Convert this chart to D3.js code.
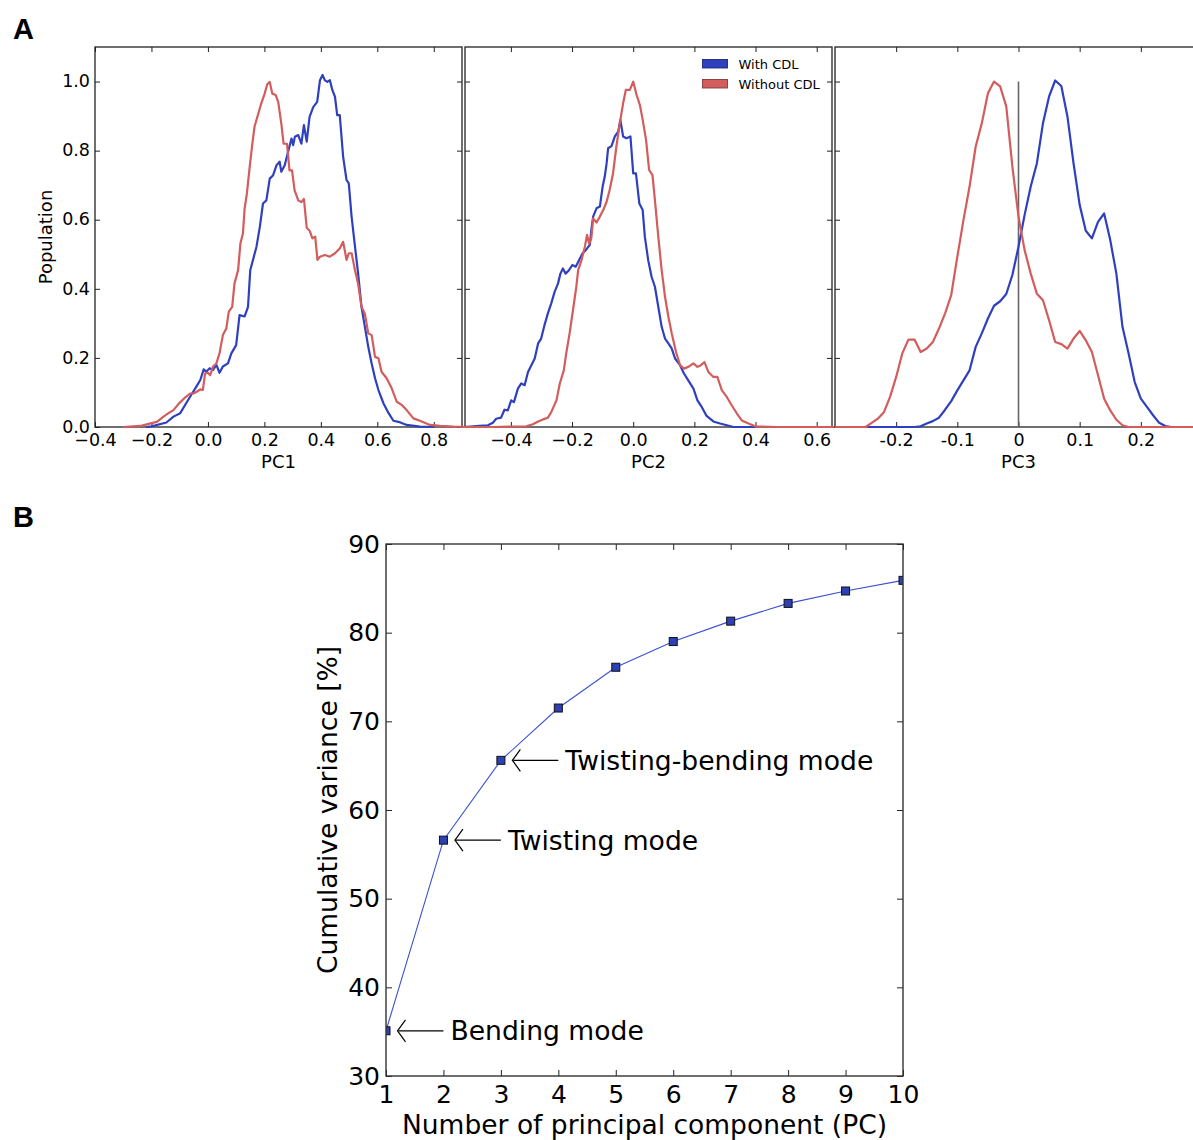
<!DOCTYPE html>
<html><head><meta charset="utf-8">
<script src="https://cdn.jsdelivr.net/npm/d3@7"></script>
<style>body{margin:0;background:#fff}svg{display:block}</style>
</head><body>
<svg id="chart" width="1193" height="1140"></svg>
<script>
// ---------- DATA ----------
const seriesNames = ["With CDL", "Without CDL"];
const pcNames = ["PC1", "PC2", "PC3"];

const pc1WithCDL = [[-0.22,0],[-0.2,0.002],[-0.147,0.013],[-0.122,0.03],[-0.098,0.04],[-0.074,0.073],[-0.056,0.097],[-0.041,0.117],[-0.027,0.136],[-0.015,0.167],[-0.006,0.16],[0.006,0.17],[0.018,0.165],[0.03,0.18],[0.041,0.157],[0.053,0.175],[0.071,0.184],[0.083,0.213],[0.1,0.237],[0.112,0.324],[0.13,0.32],[0.142,0.348],[0.15,0.454],[0.172,0.522],[0.184,0.58],[0.195,0.647],[0.207,0.656],[0.219,0.719],[0.231,0.729],[0.243,0.758],[0.254,0.768],[0.26,0.739],[0.272,0.758],[0.284,0.797],[0.296,0.835],[0.302,0.816],[0.308,0.84],[0.32,0.845],[0.331,0.82],[0.34,0.874],[0.35,0.826],[0.36,0.898],[0.373,0.926],[0.387,0.941],[0.397,1.004],[0.406,1.019],[0.414,1.004],[0.423,0.999],[0.432,1.004],[0.441,0.975],[0.45,0.956],[0.458,0.903],[0.467,0.903],[0.479,0.782],[0.491,0.715],[0.499,0.705],[0.509,0.608],[0.521,0.522],[0.532,0.445],[0.544,0.348],[0.556,0.29],[0.568,0.232],[0.58,0.184],[0.592,0.141],[0.604,0.107],[0.622,0.068],[0.64,0.04],[0.657,0.018],[0.675,0.015],[0.704,0.006],[0.751,0.001],[0.8,0]];
const pc1WithoutCDL = [[-0.3,0],[-0.24,0.003],[-0.21,0.009],[-0.181,0.015],[-0.157,0.03],[-0.14,0.04],[-0.122,0.049],[-0.104,0.067],[-0.08,0.086],[-0.063,0.097],[-0.051,0.097],[-0.04,0.102],[-0.027,0.109],[-0.018,0.107],[-0.01,0.155],[0.0,0.157],[0.008,0.15],[0.018,0.175],[0.03,0.184],[0.041,0.213],[0.053,0.266],[0.065,0.285],[0.074,0.334],[0.086,0.348],[0.094,0.415],[0.107,0.454],[0.115,0.531],[0.124,0.56],[0.13,0.633],[0.138,0.676],[0.148,0.753],[0.156,0.811],[0.165,0.869],[0.177,0.903],[0.189,0.937],[0.201,0.965],[0.21,0.992],[0.219,0.999],[0.228,0.965],[0.24,0.961],[0.249,0.941],[0.26,0.878],[0.268,0.82],[0.28,0.82],[0.289,0.743],[0.298,0.743],[0.307,0.685],[0.32,0.656],[0.331,0.651],[0.34,0.66],[0.35,0.577],[0.361,0.567],[0.37,0.546],[0.38,0.551],[0.388,0.484],[0.397,0.493],[0.414,0.498],[0.432,0.493],[0.45,0.503],[0.467,0.517],[0.479,0.536],[0.491,0.484],[0.499,0.503],[0.509,0.503],[0.521,0.454],[0.532,0.415],[0.544,0.348],[0.556,0.328],[0.568,0.271],[0.58,0.266],[0.592,0.203],[0.604,0.199],[0.615,0.16],[0.633,0.141],[0.651,0.112],[0.669,0.073],[0.686,0.064],[0.704,0.049],[0.728,0.025],[0.751,0.018],[0.787,0.006],[0.822,0.003],[0.87,0.001],[0.93,0]];

const pc2WithCDL = [[-0.552,0],[-0.503,0.003],[-0.475,0.005],[-0.459,0.012],[-0.448,0.024],[-0.432,0.027],[-0.421,0.05],[-0.41,0.048],[-0.399,0.077],[-0.39,0.072],[-0.377,0.111],[-0.366,0.126],[-0.355,0.121],[-0.344,0.159],[-0.333,0.179],[-0.322,0.198],[-0.311,0.242],[-0.301,0.256],[-0.29,0.295],[-0.279,0.329],[-0.268,0.358],[-0.257,0.391],[-0.246,0.415],[-0.238,0.444],[-0.23,0.459],[-0.221,0.444],[-0.21,0.454],[-0.199,0.469],[-0.188,0.464],[-0.177,0.483],[-0.166,0.502],[-0.155,0.512],[-0.142,0.527],[-0.137,0.57],[-0.131,0.609],[-0.12,0.633],[-0.109,0.638],[-0.1,0.696],[-0.093,0.725],[-0.087,0.763],[-0.082,0.807],[-0.071,0.813],[-0.06,0.841],[-0.049,0.855],[-0.042,0.889],[-0.033,0.841],[-0.022,0.836],[-0.009,0.841],[0.0,0.734],[0.009,0.734],[0.02,0.647],[0.031,0.628],[0.038,0.551],[0.049,0.483],[0.06,0.435],[0.071,0.406],[0.082,0.348],[0.093,0.29],[0.104,0.256],[0.115,0.242],[0.126,0.227],[0.137,0.198],[0.153,0.179],[0.166,0.155],[0.18,0.135],[0.197,0.111],[0.21,0.077],[0.224,0.058],[0.24,0.032],[0.262,0.016],[0.284,0.01],[0.306,0.005],[0.328,0],[0.4,0]];
const pc2WithoutCDL = [[-0.56,0],[-0.459,0],[-0.35,0.002],[-0.328,0.008],[-0.311,0.016],[-0.295,0.022],[-0.279,0.027],[-0.268,0.043],[-0.251,0.077],[-0.24,0.126],[-0.227,0.164],[-0.219,0.213],[-0.208,0.271],[-0.197,0.338],[-0.186,0.406],[-0.18,0.454],[-0.169,0.483],[-0.158,0.522],[-0.151,0.556],[-0.144,0.531],[-0.137,0.546],[-0.131,0.604],[-0.12,0.592],[-0.109,0.609],[-0.098,0.628],[-0.087,0.652],[-0.077,0.686],[-0.066,0.734],[-0.055,0.812],[-0.044,0.879],[-0.033,0.937],[-0.024,0.976],[-0.011,0.976],[0.0,1.0],[0.011,0.961],[0.022,0.932],[0.031,0.889],[0.042,0.831],[0.052,0.744],[0.063,0.729],[0.071,0.657],[0.082,0.551],[0.093,0.454],[0.104,0.377],[0.115,0.319],[0.126,0.271],[0.14,0.217],[0.153,0.179],[0.166,0.169],[0.18,0.174],[0.197,0.184],[0.21,0.174],[0.221,0.179],[0.233,0.188],[0.246,0.159],[0.262,0.145],[0.275,0.145],[0.29,0.106],[0.306,0.087],[0.322,0.063],[0.339,0.039],[0.355,0.019],[0.377,0.01],[0.399,0.002],[0.47,0],[0.678,0]];

const pc3WithCDL = [[-0.3,0],[-0.17,0],[-0.16,0.002],[-0.15,0.01],[-0.14,0.017],[-0.13,0.027],[-0.12,0.05],[-0.11,0.075],[-0.1,0.106],[-0.09,0.135],[-0.08,0.164],[-0.07,0.232],[-0.06,0.271],[-0.05,0.314],[-0.04,0.351],[-0.03,0.364],[-0.02,0.385],[-0.01,0.44],[0.0,0.522],[0.01,0.614],[0.02,0.696],[0.03,0.763],[0.04,0.879],[0.05,0.957],[0.06,1.003],[0.07,0.987],[0.08,0.899],[0.09,0.763],[0.1,0.643],[0.11,0.568],[0.12,0.546],[0.13,0.594],[0.14,0.618],[0.15,0.541],[0.16,0.444],[0.17,0.29],[0.18,0.213],[0.19,0.13],[0.2,0.082],[0.21,0.058],[0.22,0.034],[0.23,0.012],[0.24,0.003],[0.25,0],[0.3,0]];
const pc3WithoutCDL = [[-0.3,0],[-0.25,0],[-0.24,0.012],[-0.23,0.024],[-0.22,0.043],[-0.21,0.087],[-0.2,0.145],[-0.19,0.213],[-0.18,0.253],[-0.17,0.253],[-0.16,0.217],[-0.15,0.227],[-0.14,0.246],[-0.13,0.285],[-0.12,0.329],[-0.11,0.382],[-0.1,0.493],[-0.09,0.599],[-0.08,0.696],[-0.07,0.812],[-0.06,0.879],[-0.05,0.966],[-0.04,1.0],[-0.03,0.986],[-0.02,0.928],[-0.01,0.754],[0.0,0.609],[0.01,0.512],[0.02,0.444],[0.03,0.386],[0.04,0.367],[0.05,0.309],[0.06,0.246],[0.07,0.24],[0.08,0.227],[0.09,0.256],[0.1,0.278],[0.11,0.251],[0.12,0.217],[0.13,0.15],[0.14,0.082],[0.15,0.048],[0.16,0.021],[0.17,0.005],[0.18,0],[0.3,0]];

const pcDomains = [[-0.4, 0.9], [-0.55, 0.65], [-0.3, 0.3]];
const pcTicks = [[-0.4,-0.2,0.0,0.2,0.4,0.6,0.8], [-0.4,-0.2,0.0,0.2,0.4,0.6], [-0.2,-0.1,0,0.1,0.2]];
const popTicks = [0.0,0.2,0.4,0.6,0.8,1.0];

const pcNumbers = [1,2,3,4,5,6,7,8,9,10];
const cumulativeVariance = [35.1,56.6,65.6,71.5,76.1,79.0,81.3,83.3,84.7,85.9];
const varianceTicks = [30,40,50,60,70,80,90];
const modeLabels = [{pc:1, text:"Bending mode"},{pc:2, text:"Twisting mode"},{pc:3, text:"Twisting-bending mode"}];

// ---------- STYLE ----------
const BLUE = "#2f40bf", RED = "#d35c5c";
const FONT = "DejaVu Sans, sans-serif";
const svg = d3.select("#chart");

// panel letters
svg.append("text").attr("x",13).attr("y",39).text("A")
  .attr("font-family","Liberation Sans, Arial, sans-serif").attr("font-weight","bold").attr("font-size",29);
svg.append("text").attr("x",13).attr("y",527).text("B")
  .attr("font-family","Liberation Sans, Arial, sans-serif").attr("font-weight","bold").attr("font-size",29);

// ---------- PANEL A ----------
const aTop = 47, aBottom = 427, aW = 367;
const aLefts = [95, 465, 835];
const yA = d3.scaleLinear().domain([0, 1.1]).range([aBottom, aTop]);
const seriesData = [[pc1WithCDL, pc1WithoutCDL],[pc2WithCDL, pc2WithoutCDL],[pc3WithCDL, pc3WithoutCDL]];
const fmtMinus = d3.format(".1f");
const fmts = [fmtMinus, fmtMinus, d => d === 0 ? "0" : String(d)];

aLefts.forEach((left, i) => {
  const x = d3.scaleLinear().domain(pcDomains[i]).range([left, left + aW]);
  const g = svg.append("g");
  g.append("rect").attr("x", left).attr("y", aTop).attr("width", aW).attr("height", aBottom - aTop)
    .attr("fill","none").attr("stroke","#222").attr("stroke-width",1.3);
  const bx = g.append("g").attr("transform",`translate(0,${aBottom})`)
    .call(d3.axisBottom(x).tickValues(pcTicks[i]).tickFormat(fmts[i]).tickSize(-5).tickPadding(7));
  const tx = g.append("g").attr("transform",`translate(0,${aTop})`)
    .call(d3.axisTop(x).tickValues(pcTicks[i]).tickFormat("").tickSize(-5));
  const ly = g.append("g").attr("transform",`translate(${left},0)`)
    .call(d3.axisLeft(yA).tickValues(popTicks).tickFormat(i === 0 ? d3.format(".1f") : "").tickSize(-5).tickPadding(5));
  const ry = g.append("g").attr("transform",`translate(${left + aW},0)`)
    .call(d3.axisRight(yA).tickValues(popTicks).tickFormat("").tickSize(-5));
  [bx, tx, ly, ry].forEach(a => {
    a.select(".domain").remove();
    a.selectAll("line").attr("stroke","#222").attr("stroke-width",1);
    a.selectAll("text").attr("font-family",FONT).attr("font-size",17.5).attr("fill","#000");
  });
  ly.selectAll("text").attr("dy","0.3em");
  g.append("text").attr("x", left + aW/2).attr("y", 468).attr("text-anchor","middle")
    .attr("font-family",FONT).attr("font-size",18).text(pcNames[i]);
  if (i === 2) {
    g.append("line").attr("x1", x(0)).attr("x2", x(0)).attr("y1", yA(0)).attr("y2", yA(1.0))
      .attr("stroke","#666").attr("stroke-width",1.6);
  }
  const line = d3.line().x(d => x(d[0])).y(d => yA(d[1]));
  [BLUE, RED].forEach((c, k) => {
    g.append("path").datum(seriesData[i][k]).attr("d", line)
      .attr("fill","none").attr("stroke", c).attr("stroke-width",2.2).attr("stroke-linejoin","round");
  });
});
svg.append("text").attr("transform","translate(52,237) rotate(-90)").attr("text-anchor","middle")
  .attr("font-family",FONT).attr("font-size",18).text("Population");

// legend in PC2 panel
[BLUE, RED].forEach((c, k) => {
  const yy = 59.5 + k*20;
  svg.append("rect").attr("x",702.5).attr("y",yy).attr("width",25).attr("height",8.5)
    .attr("fill",c).attr("stroke", d3.color(c).darker(1.3)).attr("stroke-width",0.9);
  svg.append("text").attr("x",738.5).attr("y",yy+9.5).attr("font-family",FONT).attr("font-size",13)
    .text(seriesNames[k]);
});

// ---------- PANEL B ----------
const bL = 386, bR = 903, bT = 544, bB = 1076;
const xB = d3.scaleLinear().domain([1,10]).range([bL,bR]);
const yB = d3.scaleLinear().domain([30,90]).range([bB,bT]);
const gB = svg.append("g");
svg.append("defs").append("clipPath").attr("id","clipB").append("rect")
  .attr("x",bL).attr("y",bT).attr("width",bR-bL).attr("height",bB-bT);

const axB = [
  gB.append("g").attr("transform",`translate(0,${bB})`).call(d3.axisBottom(xB).tickValues(pcNumbers).tickFormat(d3.format("d")).tickSize(-6).tickPadding(9)),
  gB.append("g").attr("transform",`translate(0,${bT})`).call(d3.axisTop(xB).tickValues(pcNumbers).tickFormat("").tickSize(-6)),
  gB.append("g").attr("transform",`translate(${bL},0)`).call(d3.axisLeft(yB).tickValues(varianceTicks).tickFormat(d3.format("d")).tickSize(-6).tickPadding(6)),
  gB.append("g").attr("transform",`translate(${bR},0)`).call(d3.axisRight(yB).tickValues(varianceTicks).tickFormat("").tickSize(-6))
];
axB.forEach(a => {
  a.select(".domain").remove();
  a.selectAll("line").attr("stroke","#222").attr("stroke-width",1);
  a.selectAll("text").attr("font-family",FONT).attr("font-size",25).attr("fill","#000");
});

const varData = pcNumbers.map((p, i) => [p, cumulativeVariance[i]]);
const plotB = gB.append("g").attr("clip-path","url(#clipB)");
plotB.append("path").datum(varData)
  .attr("d", d3.line().x(d => xB(d[0])).y(d => yB(d[1])))
  .attr("fill","none").attr("stroke","#3a50d0").attr("stroke-width",1.1);
plotB.selectAll("rect.m").data(varData).join("rect").attr("class","m")
  .attr("x", d => xB(d[0]) - 4).attr("y", d => yB(d[1]) - 4).attr("width",8).attr("height",8)
  .attr("fill","#2e40b5").attr("stroke","#111").attr("stroke-width",1);

gB.append("rect").attr("x",bL).attr("y",bT).attr("width",bR-bL).attr("height",bB-bT)
  .attr("fill","none").attr("stroke","#333").attr("stroke-width",1.4);

modeLabels.forEach(m => {
  const v = cumulativeVariance[m.pc - 1];
  const yy = yB(v);
  const tip = xB(m.pc + 0.2), tail = xB(m.pc + 1);
  gB.append("line").attr("x1", tail).attr("x2", tip + 1).attr("y1", yy).attr("y2", yy)
    .attr("stroke","#000").attr("stroke-width",1.2);
  gB.append("path")
    .attr("d", `M${tip+8},${yy-11} Q${tip+3},${yy-4} ${tip},${yy} Q${tip+3},${yy+4} ${tip+8},${yy+11}`)
    .attr("fill","none").attr("stroke","#000").attr("stroke-width",1.2);
  gB.append("text").attr("x", tail + 7).attr("y", yy + 9.5)
    .attr("font-family",FONT).attr("font-size",26.6).text(m.text);
});

svg.append("text").attr("x",(bL+bR)/2).attr("y",1134).attr("text-anchor","middle")
  .attr("font-family",FONT).attr("font-size",26.5).text("Number of principal component (PC)");
svg.append("text").attr("transform",`translate(337,${(bT+bB)/2}) rotate(-90)`).attr("text-anchor","middle")
  .attr("font-family",FONT).attr("font-size",26.5).text("Cumulative variance [%]");
</script>
</body></html>
